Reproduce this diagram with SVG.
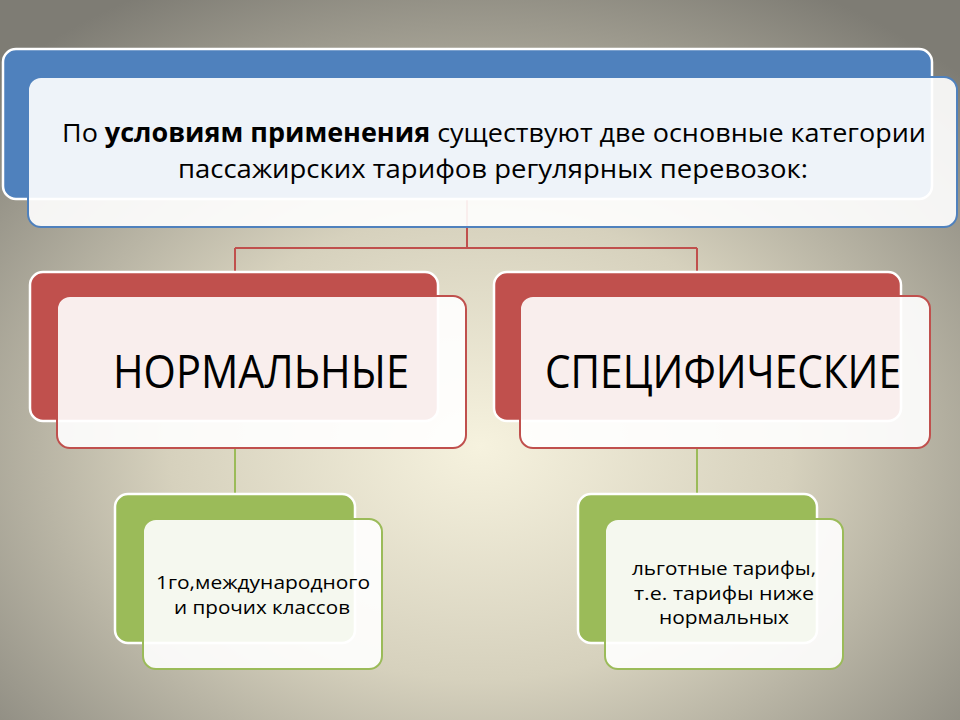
<svg xmlns="http://www.w3.org/2000/svg" width="960" height="720" viewBox="0 0 960 720">
  <defs>
    <radialGradient id="bg" cx="50%" cy="62%" r="72%">
      <stop offset="0" stop-color="#f6f2de"/>
      <stop offset="0.45" stop-color="#d6d1bd"/>
      <stop offset="1" stop-color="#7e7c74"/>
    </radialGradient>
  </defs>
  <style>
    .back { stroke: #ffffff; stroke-width: 2.5; }
    .front { fill: #ffffff; fill-opacity: 0.9; stroke-width: 2; }
    .blue { fill: #4f81bd; }
    .red { fill: #c0504d; }
    .green { fill: #9bbb59; }
    .sblue { stroke: #4f81bd; }
    .sred { stroke: #c0504d; }
    .sgreen { stroke: #9bbb59; }
    text { font-family: "Open Sans", "Noto Sans", "Liberation Sans", sans-serif; fill: #000000; text-anchor: middle; }
    .t1 { font-size: 26px; }
    .t2 { font-size: 45px; }
    .t3 { font-size: 18px; }
    .conn { fill: none; stroke-width: 2; }
  </style>
  <rect x="0" y="0" width="960" height="720" fill="url(#bg)"/>

  <g id="connectors">
    <path class="conn sred" d="M467,199 V248 M235,248 H697 M235,248 V273 M697,248 V273"/>
    <path class="conn sgreen" d="M235,448 V494 M697,448 V494"/>
  </g>

  <g id="node-top">
    <rect class="back blue" x="3" y="49" width="929" height="150" rx="13"/>
    <rect class="front sblue" x="28" y="77" width="929" height="150" rx="13"/>
    <text class="t1" x="494" y="142" textLength="864" lengthAdjust="spacingAndGlyphs">По <tspan font-weight="bold">условиям применения</tspan> существуют две основные категории</text>
    <text class="t1" x="493" y="178" textLength="630" lengthAdjust="spacingAndGlyphs">пассажирских тарифов регулярных перевозок:</text>
  </g>

  <g id="node-normal">
    <rect class="back red" x="30" y="272" width="408" height="149" rx="13"/>
    <rect class="front sred" x="57" y="296" width="409" height="152" rx="13"/>
    <text class="t2" x="261" y="388" textLength="296" lengthAdjust="spacingAndGlyphs">НОРМАЛЬНЫЕ</text>
  </g>

  <g id="node-specific">
    <rect class="back red" x="494" y="272" width="407" height="149" rx="13"/>
    <rect class="front sred" x="520" y="296" width="410" height="152" rx="13"/>
    <text class="t2" x="723" y="388" textLength="356" lengthAdjust="spacingAndGlyphs">СПЕЦИФИЧЕСКИЕ</text>
  </g>

  <g id="node-classes">
    <rect class="back green" x="115" y="494" width="240" height="149" rx="13"/>
    <rect class="front sgreen" x="143" y="519" width="239" height="150" rx="13"/>
    <text class="t3" x="263" y="589" textLength="214" lengthAdjust="spacingAndGlyphs">1го,международного</text>
    <text class="t3" x="262" y="614" textLength="176" lengthAdjust="spacingAndGlyphs">и прочих классов</text>
  </g>

  <g id="node-benefit">
    <rect class="back green" x="578" y="494" width="239" height="149" rx="13"/>
    <rect class="front sgreen" x="605" y="519" width="238" height="150" rx="13"/>
    <text class="t3" x="724" y="575" textLength="184" lengthAdjust="spacingAndGlyphs">льготные тарифы,</text>
    <text class="t3" x="724" y="600" textLength="180" lengthAdjust="spacingAndGlyphs">т.е. тарифы ниже</text>
    <text class="t3" x="724" y="624" textLength="130" lengthAdjust="spacingAndGlyphs">нормальных</text>
  </g>
</svg>
